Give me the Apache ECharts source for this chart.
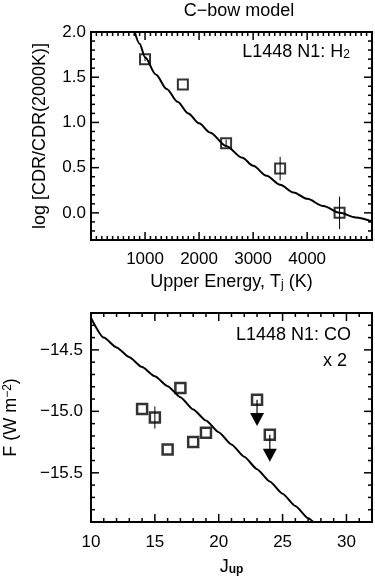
<!DOCTYPE html>
<html>
<head>
<meta charset="utf-8">
<script src="https://cdn.jsdelivr.net/npm/echarts@6/dist/echarts.min.js"></script>
<style>
  html, body { margin: 0; padding: 0; background: #fff; }
  #main { width: 375px; height: 577px; }
</style>
</head>
<body>
<div id="main"></div>
<script>
// 上图: H2 数据点 + C-bow 模型曲线
var h2Energy = [1000, 1700, 2500, 3500, 4600];
var h2Ratio = [1.70, 1.42, 0.77, 0.49, 0.0];
var h2Err = [0.02, 0, 0.04, 0.13, 0.18];
var h2ModelE = [800, 900, 1000, 1200, 1400, 1600, 1800, 2000, 2200, 2500, 2800, 3000, 3250, 3500, 3750, 4000, 4300, 4600, 4900, 5200];
var h2ModelR = [2.02, 1.87, 1.72, 1.53, 1.37, 1.23, 1.10, 0.99, 0.89, 0.74, 0.61, 0.52, 0.41, 0.31, 0.225, 0.155, 0.075, 0.0, -0.05, -0.095];

// 下图: CO 数据点、上限、模型
var coJ = [14, 15, 16, 17, 18, 19];
var coFlux = [-14.98, -15.05, -15.31, -14.81, -15.25, -15.175];
var coErr = [0, 0.09, 0, 0, 0, 0];
var coLimJ = [23, 24];
var coLimFlux = [-14.905, -15.19];
var coLimTip = [-15.12, -15.41];
var coModelJ = [10, 11, 12, 13, 14, 15, 16, 17, 18, 19, 20, 21, 22, 23, 24, 25, 26, 27, 28];
var coModelF = [-14.24, -14.40, -14.48, -14.56, -14.64, -14.715, -14.795, -14.885, -14.985, -15.075, -15.17, -15.27, -15.37, -15.47, -15.57, -15.67, -15.77, -15.87, -15.97];

// 刻度
var topXMajor = [1000, 2000, 3000, 4000];
var topYMajor = [0, 0.5, 1.0, 1.5, 2.0];
var botXMajor = [10, 15, 20, 25, 30];
var botYMajor = [-15.5, -15.0, -14.5];

var topX = [0, 5200], topY = [-0.3, 2.0];
var botX = [10, 32], botY = [-15.9, -14.2];

function steps(from, to, step, skip) {
    var out = [];
    var n = Math.round((to - from) / step);
    for (var i = 0; i <= n; i++) {
        var v = +(from + i * step).toFixed(4);
        if (skip.indexOf(v) < 0) out.push(v);
    }
    return out;
}
var topXMinor = steps(100, 5100, 100, topXMajor);
var topYMinor = steps(-0.2, 1.9, 0.1, topYMajor);
var botXMinor = steps(11, 31, 1, botXMajor);
var botYMinor = steps(-15.8, -14.3, 0.1, botYMajor);

var FONT = 'Liberation Sans';

function zip(a, b) {
    return a.map(function (v, i) { return [v, b[i]]; });
}

// 四边向内的刻度: [x, y, dx, dy, 长度]
function tickItems(xr, yr, xMaj, xMin, yMaj, yMin) {
    var out = [];
    function addX(list, len) {
        list.forEach(function (v) {
            out.push([v, yr[0], 0, -1, len]);
            out.push([v, yr[1], 0, 1, len]);
        });
    }
    function addY(list, len) {
        list.forEach(function (v) {
            out.push([xr[0], v, 1, 0, len]);
            out.push([xr[1], v, -1, 0, len]);
        });
    }
    addX(xMaj, 8); addX(xMin, 4);
    addY(yMaj, 8); addY(yMin, 4);
    return out;
}

function tickRender(params, api) {
    var p = api.coord([api.value(0), api.value(1)]);
    var len = api.value(4);
    return {
        type: 'line',
        shape: { x1: p[0], y1: p[1], x2: p[0] + api.value(2) * len, y2: p[1] + api.value(3) * len },
        style: { stroke: '#000', lineWidth: 1.5 }
    };
}

var nameStyle = {
    color: '#000', fontFamily: FONT, fontSize: 18,
    rich: {
        sub: { fontFamily: FONT, fontSize: 12, lineHeight: 8, verticalAlign: 'bottom', color: '#000' },
        sup: { fontFamily: FONT, fontSize: 12, lineHeight: 8, verticalAlign: 'top', color: '#000' },
        bsub: { fontFamily: FONT, fontSize: 12, fontWeight: 'bold', lineHeight: 8, verticalAlign: 'bottom', color: '#000' }
    }
};

function valueAxis(grid, pos, range, ticks, fmt, margin, name, gap) {
    return {
        type: 'value', gridIndex: grid, position: pos, min: range[0], max: range[1],
        axisLine: { show: false, onZero: false },
        splitLine: { show: false },
        axisTick: { show: false },
        axisLabel: { show: true, customValues: ticks, formatter: fmt, margin: margin,
                     color: '#000', fontFamily: FONT, fontSize: 17 },
        name: name, nameLocation: 'middle', nameGap: gap, nameTextStyle: nameStyle
    };
}

function plain(v) { return String(v); }

function errRender(params, api) {
    var x = api.value(0), y = api.value(1), e = api.value(2);
    if (!e) return null;
    var p0 = api.coord([x, y - e]);
    var p1 = api.coord([x, y + e]);
    return {
        type: 'line',
        shape: { x1: p0[0], y1: p0[1], x2: p1[0], y2: p1[1] },
        style: { stroke: '#000', lineWidth: 1 }
    };
}

function limitRender(params, api) {
    var x = api.value(0);
    var p0 = api.coord([x, api.value(1)]);
    var p1 = api.coord([x, api.value(2)]);
    return {
        type: 'group',
        children: [
            { type: 'line', shape: { x1: p0[0], y1: p0[1], x2: p1[0], y2: p1[1] - 12 },
              style: { stroke: '#000', lineWidth: 1.2 } },
            { type: 'polygon',
              shape: { points: [[p1[0] - 7, p1[1] - 13], [p1[0] + 7, p1[1] - 13], [p1[0], p1[1]]] },
              style: { fill: '#000' } }
        ]
    };
}

var option = {
    backgroundColor: '#fff',
    animation: false,
    grid: [
        { left: 91, top: 32, width: 281, height: 208, show: true, borderColor: '#000', borderWidth: 2,
          backgroundColor: 'transparent', outerBoundsMode: 'none', containLabel: false },
        { left: 91, top: 313, width: 281, height: 209, show: true, borderColor: '#000', borderWidth: 2,
          backgroundColor: 'transparent', outerBoundsMode: 'none', containLabel: false }
    ],
    xAxis: [
        valueAxis(0, 'bottom', topX, topXMajor, plain, 11, 'Upper Energy, T{sub|j} (K)', 33),
        valueAxis(1, 'bottom', botX, botXMajor, plain, 12, 'J{bsub|up}', 36)
    ],
    yAxis: [
        valueAxis(0, 'left', topY, topYMajor, function (v) { return v.toFixed(1); }, 5,
                  'log [CDR/CDR(2000K)]', 42),
        valueAxis(1, 'left', botY, botYMajor, function (v) { return '\u2212' + Math.abs(v).toFixed(1); }, 8,
                  'F (W m{sup|\u22122})', 71)
    ],
    graphic: [
        { type: 'text', x: 239, y: 11,
          style: { text: 'C\u2212bow model', align: 'center', verticalAlign: 'middle',
                   fontFamily: FONT, fontSize: 18, fill: '#000' } },
        { type: 'text', x: 350, y: 52,
          style: { text: 'L1448 N1: H{sub|2}', align: 'right', verticalAlign: 'middle',
                   fontFamily: FONT, fontSize: 18, fill: '#000',
                   rich: { sub: { fontFamily: FONT, fontSize: 12, lineHeight: 8, verticalAlign: 'bottom', fill: '#000' } } } },
        { type: 'text', x: 351, y: 335,
          style: { text: 'L1448 N1: CO', align: 'right', verticalAlign: 'middle',
                   fontFamily: FONT, fontSize: 18, fill: '#000' } },
        { type: 'text', x: 347, y: 361,
          style: { text: 'x 2', align: 'right', verticalAlign: 'middle',
                   fontFamily: FONT, fontSize: 18, fill: '#000' } }
    ],
    series: [
        {
            type: 'custom', xAxisIndex: 0, yAxisIndex: 0, clip: false, silent: true,
            data: tickItems(topX, topY, topXMajor, topXMinor, topYMajor, topYMinor),
            renderItem: tickRender
        },
        {
            type: 'line', xAxisIndex: 0, yAxisIndex: 0,
            data: zip(h2ModelE, h2ModelR),
            showSymbol: false, smooth: 0.3, smoothMonotone: 'x', clip: true,
            lineStyle: { color: '#000', width: 2 }
        },
        {
            type: 'custom', xAxisIndex: 0, yAxisIndex: 0, clip: true,
            data: h2Energy.map(function (v, i) { return [v, h2Ratio[i], h2Err[i]]; }),
            renderItem: errRender
        },
        {
            type: 'scatter', xAxisIndex: 0, yAxisIndex: 0,
            data: zip(h2Energy, h2Ratio),
            symbol: 'rect', symbolSize: 10,
            itemStyle: { color: 'rgba(0,0,0,0)', borderColor: '#000', borderWidth: 2 }
        },
        {
            type: 'custom', xAxisIndex: 1, yAxisIndex: 1, clip: false, silent: true,
            data: tickItems(botX, botY, botXMajor, botXMinor, botYMajor, botYMinor),
            renderItem: tickRender
        },
        {
            type: 'line', xAxisIndex: 1, yAxisIndex: 1,
            data: zip(coModelJ, coModelF),
            showSymbol: false, smooth: 0.2, smoothMonotone: 'x', clip: true,
            lineStyle: { color: '#000', width: 2 }
        },
        {
            type: 'custom', xAxisIndex: 1, yAxisIndex: 1, clip: true,
            data: coJ.map(function (v, i) { return [v, coFlux[i], coErr[i]]; }),
            renderItem: errRender
        },
        {
            type: 'custom', xAxisIndex: 1, yAxisIndex: 1, clip: true,
            data: coLimJ.map(function (v, i) { return [v, coLimFlux[i], coLimTip[i]]; }),
            renderItem: limitRender
        },
        {
            type: 'scatter', xAxisIndex: 1, yAxisIndex: 1,
            data: zip(coJ, coFlux).concat(zip(coLimJ, coLimFlux)),
            symbol: 'rect', symbolSize: 10,
            itemStyle: { color: 'rgba(0,0,0,0)', borderColor: '#000', borderWidth: 2.5 }
        }
    ]
};

var myChart = echarts.init(document.getElementById('main'));
myChart.setOption(option);
</script>
</body>
</html>
